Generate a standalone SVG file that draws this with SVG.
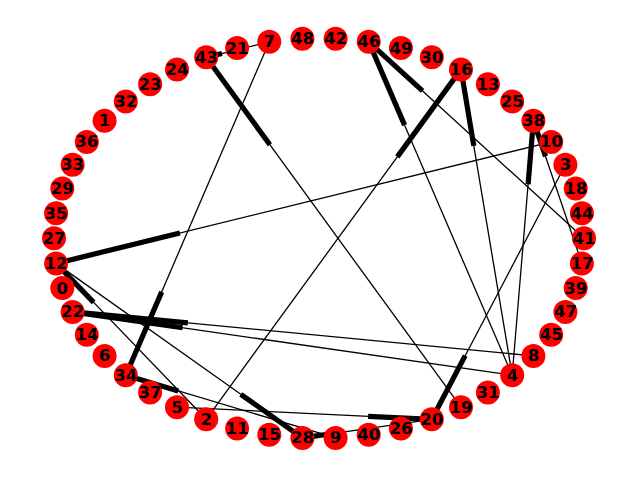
<svg xmlns="http://www.w3.org/2000/svg" width="640" height="480" viewBox="0 0 640 480">
<style>
.n circle{fill:#ff0000;stroke:none}
.n text{font-family:"DejaVu Sans","Liberation Sans",sans-serif;font-weight:bold;font-size:16.5px;fill:#000;text-anchor:middle;dominant-baseline:central}
.e line{stroke:#000;stroke-linecap:butt}
.e .t{stroke-width:1.3}
.e .h{stroke-width:5.2}
</style>
<rect width="640" height="480" fill="#fff"/>
<g id="edges" class="e">
<line class="t" x1="461" y1="407.2" x2="206.2" y2="57.3"/><line class="h" x1="269.9" y1="144.8" x2="206.2" y2="57.3"/>
<line class="t" x1="269.3" y1="41.8" x2="125.8" y2="375.2"/><line class="h" x1="161.7" y1="291.85" x2="125.8" y2="375.2"/>
<line class="t" x1="269.3" y1="41.8" x2="206.2" y2="57.3"/><line class="h" x1="222" y1="53.4" x2="206.2" y2="57.3"/>
<line class="t" x1="512.2" y1="375.2" x2="368.7" y2="41.8"/><line class="h" x1="404.6" y1="125.15" x2="368.7" y2="41.8"/>
<line class="t" x1="584" y1="238.3" x2="368.7" y2="41.8"/><line class="h" x1="422.5" y1="90.9" x2="368.7" y2="41.8"/>
<line class="t" x1="206.2" y1="419.3" x2="461" y2="69.4"/><line class="h" x1="397.3" y1="156.9" x2="461" y2="69.4"/>
<line class="t" x1="512.2" y1="375.2" x2="461" y2="69.4"/><line class="h" x1="473.8" y1="145.85" x2="461" y2="69.4"/>
<line class="t" x1="512.2" y1="375.2" x2="533.4" y2="120.7"/><line class="h" x1="528.1" y1="184.3" x2="533.4" y2="120.7"/>
<line class="t" x1="581.9" y1="263.4" x2="533.4" y2="120.7"/><line class="h" x1="545.5" y1="156.4" x2="533.4" y2="120.7"/>
<line class="t" x1="551.2" y1="141.9" x2="56.1" y2="263.4"/><line class="h" x1="179.9" y1="233" x2="56.1" y2="263.4"/>
<line class="t" x1="565.4" y1="164.7" x2="431.8" y2="419.3"/><line class="h" x1="465.2" y1="355.65" x2="431.8" y2="419.3"/>
<line class="t" x1="533.4" y1="355.9" x2="72.6" y2="311.9"/><line class="h" x1="187.8" y1="322.9" x2="72.6" y2="311.9"/>
<line class="t" x1="512.2" y1="375.2" x2="72.6" y2="311.9"/><line class="h" x1="182.5" y1="327.7" x2="72.6" y2="311.9"/>
<line class="t" x1="206.2" y1="419.3" x2="56.1" y2="263.4"/><line class="h" x1="93.6" y1="302.4" x2="56.1" y2="263.4"/>
<line class="t" x1="56.1" y1="263.4" x2="302.4" y2="437.9"/><line class="h" x1="240.8" y1="394.3" x2="302.4" y2="437.9"/>
<line class="t" x1="335.6" y1="437.9" x2="125.8" y2="375.2"/><line class="h" x1="178.25" y1="390.9" x2="125.8" y2="375.2"/>
<line class="t" x1="177" y1="407.2" x2="431.8" y2="419.3"/><line class="h" x1="368.1" y1="416.3" x2="431.8" y2="419.3"/>
<line class="t" x1="431.8" y1="419.3" x2="302.4" y2="437.9"/><line class="h" x1="334.75" y1="433.25" x2="302.4" y2="437.9"/>
</g>
<g id="node-41" class="n"><circle cx="584" cy="238.3" r="12"/><text x="584" y="238.3">41</text></g>
<g id="node-44" class="n"><circle cx="581.9" cy="213.2" r="12"/><text x="581.9" y="213.2">44</text></g>
<g id="node-18" class="n"><circle cx="575.7" cy="188.6" r="12"/><text x="575.7" y="188.6">18</text></g>
<g id="node-3" class="n"><circle cx="565.4" cy="164.7" r="12"/><text x="565.4" y="164.7">3</text></g>
<g id="node-10" class="n"><circle cx="551.2" cy="141.9" r="12"/><text x="551.2" y="141.9">10</text></g>
<g id="node-38" class="n"><circle cx="533.4" cy="120.7" r="12"/><text x="533.4" y="120.7">38</text></g>
<g id="node-25" class="n"><circle cx="512.2" cy="101.4" r="12"/><text x="512.2" y="101.4">25</text></g>
<g id="node-13" class="n"><circle cx="487.9" cy="84.2" r="12"/><text x="487.9" y="84.2">13</text></g>
<g id="node-16" class="n"><circle cx="461" cy="69.4" r="12"/><text x="461" y="69.4">16</text></g>
<g id="node-30" class="n"><circle cx="431.8" cy="57.3" r="12"/><text x="431.8" y="57.3">30</text></g>
<g id="node-49" class="n"><circle cx="400.9" cy="48.1" r="12"/><text x="400.9" y="48.1">49</text></g>
<g id="node-46" class="n"><circle cx="368.7" cy="41.8" r="12"/><text x="368.7" y="41.8">46</text></g>
<g id="node-42" class="n"><circle cx="335.6" cy="38.7" r="12"/><text x="335.6" y="38.7">42</text></g>
<g id="node-48" class="n"><circle cx="302.4" cy="38.7" r="12"/><text x="302.4" y="38.7">48</text></g>
<g id="node-7" class="n"><circle cx="269.3" cy="41.8" r="12"/><text x="269.3" y="41.8">7</text></g>
<g id="node-21" class="n"><circle cx="237.1" cy="48.1" r="12"/><text x="237.1" y="48.1">21</text></g>
<g id="node-43" class="n"><circle cx="206.2" cy="57.3" r="12"/><text x="206.2" y="57.3">43</text></g>
<g id="node-24" class="n"><circle cx="177" cy="69.4" r="12"/><text x="177" y="69.4">24</text></g>
<g id="node-23" class="n"><circle cx="150.1" cy="84.2" r="12"/><text x="150.1" y="84.2">23</text></g>
<g id="node-32" class="n"><circle cx="125.8" cy="101.4" r="12"/><text x="125.8" y="101.4">32</text></g>
<g id="node-1" class="n"><circle cx="104.6" cy="120.7" r="12"/><text x="104.6" y="120.7">1</text></g>
<g id="node-36" class="n"><circle cx="86.8" cy="141.9" r="12"/><text x="86.8" y="141.9">36</text></g>
<g id="node-33" class="n"><circle cx="72.6" cy="164.7" r="12"/><text x="72.6" y="164.7">33</text></g>
<g id="node-29" class="n"><circle cx="62.3" cy="188.6" r="12"/><text x="62.3" y="188.6">29</text></g>
<g id="node-35" class="n"><circle cx="56.1" cy="213.2" r="12"/><text x="56.1" y="213.2">35</text></g>
<g id="node-27" class="n"><circle cx="54" cy="238.3" r="12"/><text x="54" y="238.3">27</text></g>
<g id="node-12" class="n"><circle cx="56.1" cy="263.4" r="12"/><text x="56.1" y="263.4">12</text></g>
<g id="node-0" class="n"><circle cx="62.3" cy="288" r="12"/><text x="62.3" y="288">0</text></g>
<g id="node-22" class="n"><circle cx="72.6" cy="311.9" r="12"/><text x="72.6" y="311.9">22</text></g>
<g id="node-14" class="n"><circle cx="86.8" cy="334.7" r="12"/><text x="86.8" y="334.7">14</text></g>
<g id="node-6" class="n"><circle cx="104.6" cy="355.9" r="12"/><text x="104.6" y="355.9">6</text></g>
<g id="node-34" class="n"><circle cx="125.8" cy="375.2" r="12"/><text x="125.8" y="375.2">34</text></g>
<g id="node-37" class="n"><circle cx="150.1" cy="392.4" r="12"/><text x="150.1" y="392.4">37</text></g>
<g id="node-5" class="n"><circle cx="177" cy="407.2" r="12"/><text x="177" y="407.2">5</text></g>
<g id="node-2" class="n"><circle cx="206.2" cy="419.3" r="12"/><text x="206.2" y="419.3">2</text></g>
<g id="node-11" class="n"><circle cx="237.1" cy="428.5" r="12"/><text x="237.1" y="428.5">11</text></g>
<g id="node-15" class="n"><circle cx="269.3" cy="434.8" r="12"/><text x="269.3" y="434.8">15</text></g>
<g id="node-28" class="n"><circle cx="302.4" cy="437.9" r="12"/><text x="302.4" y="437.9">28</text></g>
<g id="node-9" class="n"><circle cx="335.6" cy="437.9" r="12"/><text x="335.6" y="437.9">9</text></g>
<g id="node-40" class="n"><circle cx="368.7" cy="434.8" r="12"/><text x="368.7" y="434.8">40</text></g>
<g id="node-26" class="n"><circle cx="400.9" cy="428.5" r="12"/><text x="400.9" y="428.5">26</text></g>
<g id="node-20" class="n"><circle cx="431.8" cy="419.3" r="12"/><text x="431.8" y="419.3">20</text></g>
<g id="node-19" class="n"><circle cx="461" cy="407.2" r="12"/><text x="461" y="407.2">19</text></g>
<g id="node-31" class="n"><circle cx="487.9" cy="392.4" r="12"/><text x="487.9" y="392.4">31</text></g>
<g id="node-4" class="n"><circle cx="512.2" cy="375.2" r="12"/><text x="512.2" y="375.2">4</text></g>
<g id="node-8" class="n"><circle cx="533.4" cy="355.9" r="12"/><text x="533.4" y="355.9">8</text></g>
<g id="node-45" class="n"><circle cx="551.2" cy="334.7" r="12"/><text x="551.2" y="334.7">45</text></g>
<g id="node-47" class="n"><circle cx="565.4" cy="311.9" r="12"/><text x="565.4" y="311.9">47</text></g>
<g id="node-39" class="n"><circle cx="575.7" cy="288" r="12"/><text x="575.7" y="288">39</text></g>
<g id="node-17" class="n"><circle cx="581.9" cy="263.4" r="12"/><text x="581.9" y="263.4">17</text></g>
</svg>
